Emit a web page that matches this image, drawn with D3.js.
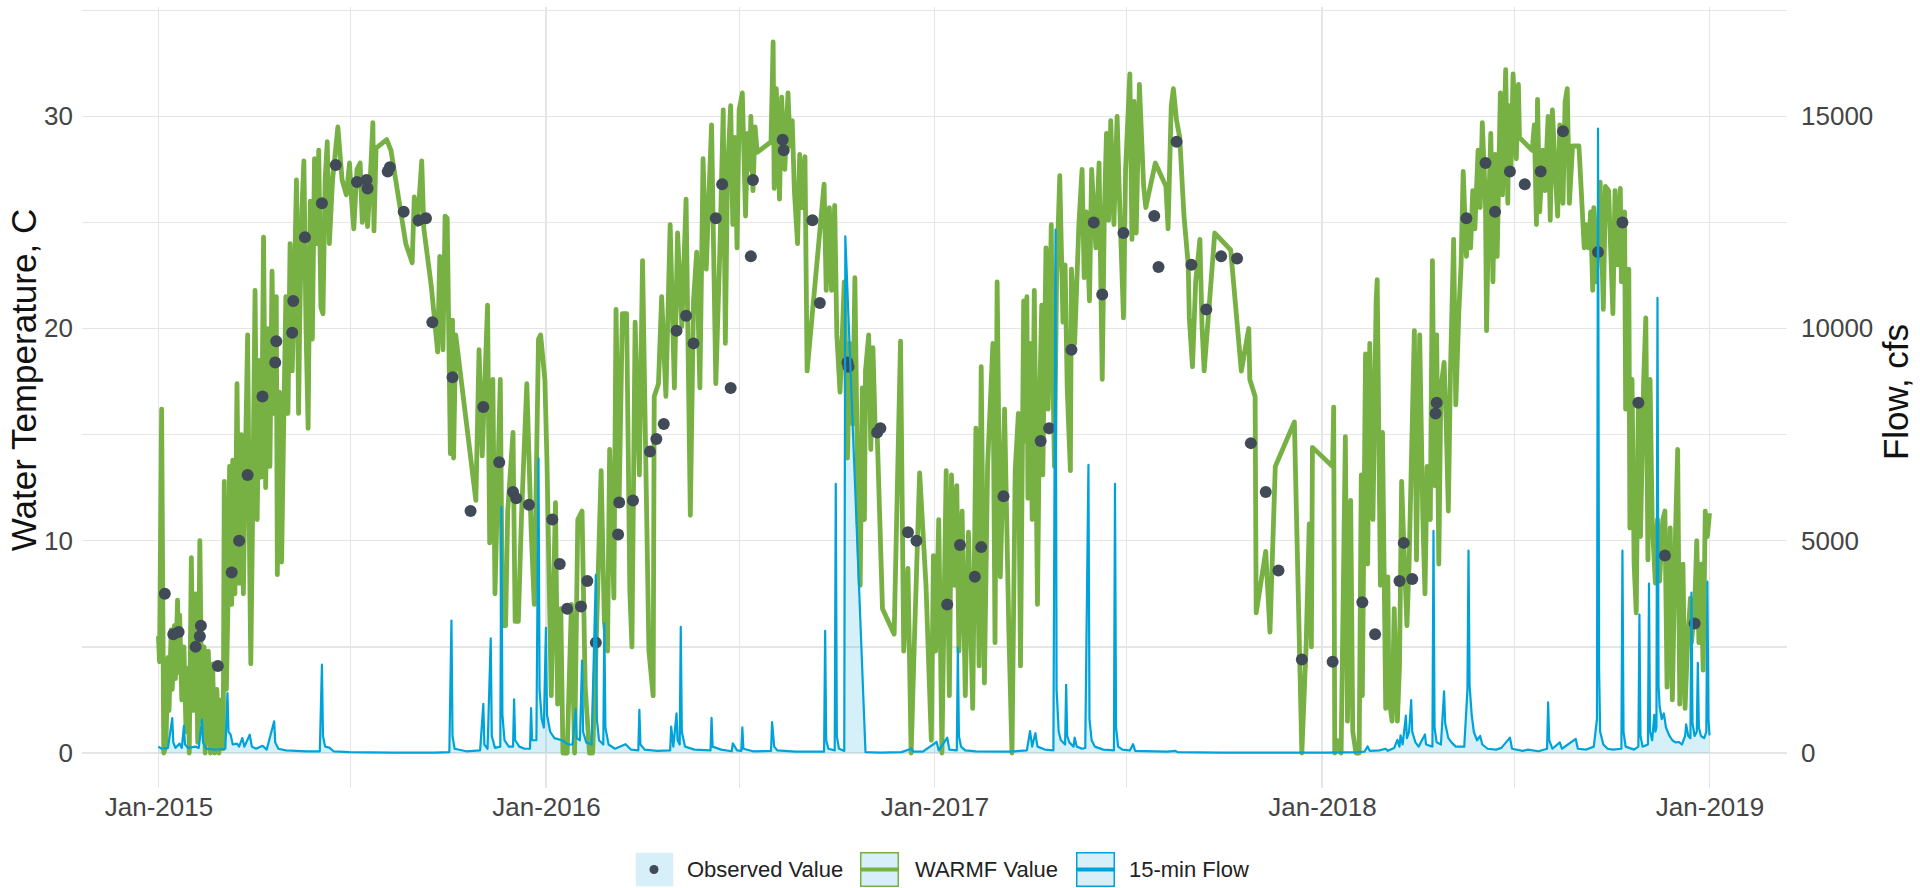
<!DOCTYPE html>
<html lang="en">
<head>
<meta charset="UTF-8">
<title>Water Temperature and Flow</title>
<style>
  body { margin: 0; background: #fff; }
  svg { display: block; font-family: "Liberation Sans", Arial, sans-serif; }
  .grid line { stroke: #e5e5e5; stroke-width: 1.3; shape-rendering: crispEdges; }
  .axis text { fill: #444; font-size: 26px; }
  .axis path, .axis line { display: none; }
  .title { fill: #111; font-size: 35px; }
  .legend text { fill: #222; font-size: 22px; }
</style>
</head>
<body>
<svg class="chart"></svg>
<script src="https://cdn.jsdelivr.net/npm/d3@7"></script>
<script>
// days are counted from 2015-01-01
var startDate = new Date(2015, 0, 1);

var warmfDay = [0,1,3,5,7,9,10,12,13,15,16,18,19,20,22,24,26,28,29,31,33,35,37,39,41,43,44,47,49,51,53,55,57,59,61,62,64,66,67,69,70,72,74,76,78,80,82,84,86,87,89,91,93,95,97,99,101,103,105,107,109,111,112,114,116,118,120,122,124,126,128,130,132,133,135,137,139,141,143,145,147,149,151,153,155,157,159,161,164,169,173,177,180,182,184,187,190,192,194,197,199,202,203,205,215,219,227,233,239,241,244,248,250,257,263,265,268,270,272,275,277,278,280,299,302,305,307,310,312,315,317,322,324,327,329,334,336,339,342,347,351,354,358,360,364,366,370,374,376,379,381,385,389,392,395,399,402,406,409,412,417,420,423,425,429,431,434,437,441,444,446,449,453,456,459,462,466,467,471,474,478,482,486,489,493,497,501,504,507,510,513,516,521,525,529,532,534,536,539,541,543,545,547,550,553,555,557,558,560,562,564,577,579,580,582,585,587,590,593,595,597,599,602,604,606,609,611,627,629,632,634,637,639,642,644,646,649,651,654,656,659,661,663,665,666,669,671,673,675,677,682,693,699,702,706,709,712,717,723,728,730,732,735,738,740,742,745,747,750,752,754,757,760,763,767,770,773,775,778,781,786,788,790,793,797,801,804,807,810,812,815,817,818,819,821,823,825,828,830,832,833,836,838,841,842,844,846,849,852,854,856,859,860,863,867,870,872,874,877,879,883,886,889,891,893,895,897,900,903,905,909,911,915,917,919,921,924,928,930,939,949,951,954,956,959,962,966,970,971,974,977,981,983,985,995,1010,1020,1027,1028,1033,1034,1043,1047,1052,1070,1077,1081,1084,1086,1087,1106,1107,1108,1110,1114,1118,1120,1123,1125,1128,1131,1133,1134,1137,1139,1141,1144,1147,1148,1151,1153,1156,1158,1159,1162,1164,1167,1169,1171,1173,1176,1178,1183,1185,1188,1191,1193,1195,1198,1200,1202,1204,1206,1208,1211,1213,1215,1217,1220,1222,1225,1227,1229,1232,1234,1236,1238,1240,1243,1245,1247,1250,1251,1253,1255,1257,1259,1261,1264,1266,1269,1271,1272,1274,1276,1279,1281,1282,1294,1296,1298,1299,1301,1304,1306,1309,1311,1313,1316,1318,1320,1323,1325,1327,1329,1332,1335,1338,1340,1343,1345,1347,1349,1351,1352,1354,1356,1358,1361,1363,1366,1370,1372,1374,1377,1378,1381,1382,1385,1386,1388,1390,1392,1394,1396,1399,1401,1403,1405,1407,1410,1412,1414,1417,1419,1421,1424,1426,1429,1431,1433,1436,1438,1440,1443,1444,1447,1449,1451,1453,1455,1457,1459,1461];
var warmfTemp = [5.5,4.3,16.2,0,0.3,4.5,2.0,5.8,3.0,6.0,3.5,7.2,3.8,6.5,2.5,5.0,1.0,4.0,0,9.2,2.0,7.5,0.5,10.0,1.5,5.0,0,4.8,0,4.2,0,3.0,0,2.5,0.2,12.8,3.0,8.5,13.5,7.0,13.8,7.5,17.4,8.0,15.0,7.5,14.0,19.7,8.5,4.2,12.5,21.8,11.0,18.5,13.0,24.3,12.5,20.0,13.5,22.7,16.0,21.5,8.4,17.0,9.0,15.5,21.5,16.0,24.0,18.0,22.0,27.0,16.0,20.0,25.5,27.9,20.0,15.3,26.0,19.5,28.0,24.0,28.4,21.0,20.7,27.0,28.8,24.0,27.0,29.5,27.0,26.3,27.8,26.0,24.7,27.5,27.8,25.0,27.0,24.8,26.5,29.7,24.6,28.5,28.9,28.4,25.9,24.0,23.1,26.2,24.9,27.9,24.7,22.0,18.9,23.4,19.0,25.3,25.2,14.1,20.4,13.9,19.7,11.9,19.0,14.0,16.8,21.1,9.9,17.6,7.5,17.6,6.0,6.0,11.4,15.1,6.2,6.2,11.2,17.4,10.6,7.0,19.5,19.7,17.6,13.7,2.7,11.8,2.3,6.8,0,0,7.0,0,11.0,11.4,3.1,0,0,4.6,13.3,6.2,4.8,14.3,7.3,20.9,12.0,20.7,20.7,7.7,5.0,20.3,13.1,23.2,13.9,4.8,2.7,16.8,17.4,21.5,16.8,24.9,17.2,24.5,20.1,26.1,11.2,21.3,23.6,17.2,28.0,22.8,29.6,17.4,24.0,30.3,19.3,27.3,30.5,24.9,29.0,23.8,30.3,31.1,25.3,29.2,27.5,30.0,26.5,29.5,28.3,28.8,33.5,26.6,31.3,26.1,30.9,27.5,31.1,28.6,29.8,26.5,24.0,28.2,25.7,28.1,18.0,26.8,21.8,25.7,21.8,25.8,19.7,17.0,19.5,22.2,13.9,19.3,15.5,22.4,11.0,7.9,17.2,11.0,18.0,19.7,14.3,19.1,15.5,15.1,6.8,5.6,19.4,4.8,8.7,0,5.2,13.2,7.9,0.6,9.3,4.8,11.0,0,6.8,13.3,2.7,13.1,7.9,12.6,4.8,11.4,2.7,10.4,2.1,15.3,4.1,18.2,3.3,13.5,19.3,5.2,22.2,8.3,16.2,5.8,0,13.3,16.0,4.1,21.3,14.7,21.5,12.0,19.3,11.0,21.8,7.0,16.6,21.1,13.1,23.8,16.2,24.9,19.3,13.5,22.4,27.2,20.3,23.0,17.2,13.3,22.8,19.3,24.9,27.5,22.4,25.5,21.3,27.5,23.8,27.8,17.6,25.5,29.2,25.1,29.8,24.9,30.0,26.5,20.5,27.5,32.0,24.2,30.7,24.5,31.5,26.7,25.7,27.8,26.7,24.7,30.5,31.3,29.8,29.0,25.3,23.0,20.5,18.2,22.2,24.2,20.1,18.0,24.5,23.7,18.0,20.0,17.6,16.8,6.6,9.5,5.7,13.5,15.6,0,5.0,10.8,5.0,14.4,13.5,16.3,0,0.6,0,14.9,1.5,11.9,1.0,0,0,13.1,2.7,18.8,8.9,19.3,11.0,21.3,22.3,7.9,15.1,2.1,8.3,2.7,1.5,6.8,1.5,4.1,12.8,9.9,6.0,8.9,19.9,9.1,19.7,11.0,7.5,13.5,11.0,23.2,12.6,19.7,8.9,17.2,18.4,15.5,11.4,18.0,24.2,16.4,20.9,23.0,27.4,23.4,24.9,23.8,26.5,24.7,28.4,25.7,29.7,25.9,19.9,25.7,29.2,22.2,28.2,23.4,31.1,26.3,32.2,25.9,30.5,27.5,32.0,28.0,31.5,29.0,28.4,29.6,24.9,30.8,25.5,28.4,26.5,30.0,25.1,30.3,27.1,25.3,29.6,25.9,30.7,31.3,25.9,28.6,28.6,28.6,26.7,23.8,24.9,23.8,25.5,21.8,25.7,22.2,23.8,26.9,20.9,26.7,26.5,20.7,26.5,23.0,26.6,22.2,25.5,16.2,22.8,10.6,17.6,8.9,6.6,16.6,10.2,17.6,20.5,9.1,17.6,11.0,8.0,11.0,8.1,11.0,11.4,3.1,10.6,2.5,10.4,14.3,2.3,8.9,2.1,4.8,7.3,5.2,6.8,10.0,5.2,8.9,3.9,11.4,10.2,11.3];

var obsDay = [6,14,19,35,39,40,56,69,76,84,98,110,111,126,127,138,154,167,187,196,197,216,218,231,245,252,258,277,294,306,321,334,337,349,371,378,385,398,404,412,433,434,447,463,469,476,488,497,504,525,531,539,558,560,588,589,616,623,649,650,677,680,706,714,743,755,769,775,796,831,839,860,881,889,909,938,942,959,973,987,1001,1016,1029,1043,1055,1077,1106,1134,1146,1169,1173,1181,1203,1204,1232,1250,1259,1273,1287,1302,1323,1356,1379,1394,1419,1447];
var obsTemp = [7.5,5.6,5.7,5.0,5.5,6.0,4.1,8.5,10.0,13.1,16.8,18.4,19.4,19.8,21.3,24.3,25.9,27.7,26.9,27.0,26.6,27.4,27.6,25.5,25.1,25.2,20.3,17.7,11.4,16.3,13.7,12.3,12.0,11.7,11.0,8.9,6.8,6.9,8.1,5.2,10.3,11.8,11.9,14.2,14.8,15.5,19.9,20.6,19.3,25.2,26.8,17.2,23.4,27.0,28.9,28.4,25.1,21.2,18.4,18.2,15.1,15.3,10.4,10.0,7.0,9.8,8.3,9.7,12.1,14.7,15.3,19.0,25.0,21.6,24.5,25.3,22.9,28.8,23.0,20.9,23.4,23.3,14.6,12.3,8.6,4.4,4.3,7.1,5.6,8.1,9.9,8.2,16.0,16.5,25.2,27.8,25.5,27.4,26.8,27.4,29.3,23.6,25.0,16.5,9.3,6.1];

var flowDay = [0,3,9,13,14,16,20,22,24,25,28,35,38,41,42,45,54,63,65,66,68,70,74,76,79,81,86,88,92,98,102,109,110,113,120,140,152,154,155,157,161,165,180,220,260,274,276,277,279,290,303,306,307,310,313,314,317,322,323,324,326,330,334,335,336,340,345,350,351,352,356,358,359,361,363,365,366,369,373,380,386,390,393,394,397,399,400,403,408,412,413,415,419,420,421,424,430,440,445,452,453,454,458,470,482,483,485,488,489,491,492,493,496,505,520,521,522,530,540,541,545,549,550,551,560,577,578,580,583,600,627,628,629,631,637,638,639,641,646,647,666,680,700,709,711,720,733,735,743,745,752,753,754,756,760,770,800,818,821,823,826,828,835,843,845,846,848,850,854,855,856,858,862,863,865,870,873,874,876,877,879,882,890,900,901,902,904,908,915,918,920,950,958,960,1000,1050,1100,1130,1136,1139,1141,1150,1156,1158,1164,1167,1169,1170,1172,1175,1176,1178,1180,1181,1184,1187,1193,1194,1200,1201,1202,1204,1208,1211,1212,1215,1218,1222,1230,1233,1234,1235,1237,1239,1242,1245,1247,1252,1260,1265,1273,1275,1285,1290,1300,1308,1309,1310,1313,1320,1322,1335,1337,1345,1352,1355,1356,1357,1358,1361,1365,1370,1378,1379,1380,1382,1390,1394,1395,1396,1398,1403,1404,1405,1407,1409,1410,1411,1412,1413,1414,1416,1418,1420,1423,1426,1429,1432,1435,1438,1439,1441,1443,1444,1445,1447,1449,1450,1451,1453,1456,1458,1459,1460,1461];
var flowCfs = [150,100,120,820,250,120,220,120,640,200,120,150,120,785,250,100,80,100,1410,500,430,200,220,150,350,150,430,150,100,170,80,746,250,100,60,40,40,2080,400,150,125,40,20,10,10,20,3120,400,100,40,60,1155,200,100,2700,400,120,150,5800,900,300,150,150,1265,300,150,100,100,1055,300,300,6940,1500,800,600,2950,900,500,350,300,200,200,1036,350,300,2176,500,250,200,4196,800,300,200,3056,600,200,100,207,80,60,1015,200,80,50,60,622,150,932,300,200,2973,500,150,80,60,829,150,80,40,228,60,50,601,100,40,50,725,150,60,30,30,2880,300,100,60,6340,400,100,50,12173,20,10,20,100,30,30,259,60,363,80,60,2486,400,150,60,40,30,60,518,150,466,150,80,60,12328,1500,500,300,200,1606,400,250,150,363,150,100,120,2383,6786,800,300,150,80,60,6340,600,150,80,60,207,50,30,50,20,10,10,10,20,30,155,50,60,100,50,120,310,150,415,200,880,350,500,1243,500,250,150,435,200,150,5232,600,250,200,1450,700,350,250,150,150,1500,4766,1600,900,500,300,400,200,100,80,120,363,100,50,80,40,100,1191,300,100,250,100,330,100,80,150,800,14711,2000,500,200,100,80,100,4766,500,150,80,150,3263,400,150,200,3989,500,300,900,500,600,10723,1600,1100,800,932,600,414,300,250,259,200,400,673,400,350,3781,700,400,500,2124,600,400,350,500,4040,800,414];

var tempTicks = [0, 10, 20, 30];
var flowTicks = [0, 5000, 10000, 15000];
var legendLabels = ["Observed Value", "WARMF Value", "15-min Flow"];

var green = "#77b143", blue = "#00a3d9", dotColor = "#414b57", pale = "#d7eff8";

var svgWidth = 1920, svgHeight = 888;
var plotLeft = 82, plotRight = 1787, plotTop = 7, plotBottom = 788;

var svg = d3.select(".chart")
  .attr("width", svgWidth)
  .attr("height", svgHeight);

function toDate(d) { return d3.timeDay.offset(startDate, d); }

var x = d3.scaleTime()
  .domain([toDate(-72), toDate(1534)])
  .range([plotLeft, plotRight]);

var yT = d3.scaleLinear()
  .domain([-1.65, 35.15])
  .range([plotBottom, plotTop]);

var yQ = d3.scaleLinear()
  .domain([-825, 17575])
  .range([plotBottom, plotTop]);

// grid
var grid = svg.append("g").attr("class", "grid");
grid.selectAll(".h")
  .data(d3.range(0, 36, 5))
  .enter().append("line")
  .attr("x1", plotLeft).attr("x2", plotRight)
  .attr("y1", function(d) { return yT(d); })
  .attr("y2", function(d) { return yT(d); });
grid.selectAll(".v")
  .data(d3.timeMonth.range(new Date(2015, 0, 1), new Date(2019, 0, 2), 6))
  .enter().append("line")
  .attr("y1", plotTop).attr("y2", plotBottom)
  .attr("x1", function(d) { return x(d); })
  .attr("x2", function(d) { return x(d); });

// axes
svg.append("g")
  .attr("class", "axis")
  .attr("transform", "translate(0," + plotBottom + ")")
  .call(d3.axisBottom(x)
    .tickValues(d3.timeYear.range(new Date(2015, 0, 1), new Date(2019, 0, 2)))
    .tickFormat(d3.timeFormat("%b-%Y"))
    .tickSize(0).tickPadding(10));

svg.append("g")
  .attr("class", "axis")
  .attr("transform", "translate(" + plotLeft + ",0)")
  .call(d3.axisLeft(yT).tickValues(tempTicks).tickSize(0).tickPadding(9));

svg.append("g")
  .attr("class", "axis")
  .attr("transform", "translate(" + plotRight + ",0)")
  .call(d3.axisRight(yQ).tickValues(flowTicks).tickFormat(d3.format("d"))
    .tickSize(0).tickPadding(14));

svg.selectAll(".axis .domain").remove();

// titles
svg.append("text")
  .attr("class", "title")
  .attr("transform", "translate(36,380) rotate(-90)")
  .attr("text-anchor", "middle")
  .text("Water Temperature, C");

svg.append("text")
  .attr("class", "title")
  .attr("transform", "translate(1908,392) rotate(-90)")
  .attr("text-anchor", "middle")
  .text("Flow, cfs");

// series
var flow = flowDay.map(function(d, i) { return {date: toDate(d), q: flowCfs[i]}; });
var warmf = warmfDay.map(function(d, i) { return {date: toDate(d), t: warmfTemp[i]}; });
var obs = obsDay.map(function(d, i) { return {date: toDate(d), t: obsTemp[i]}; });

svg.append("path")
  .datum(flow)
  .attr("fill", blue)
  .attr("fill-opacity", 0.16)
  .attr("d", d3.area()
    .x(function(d) { return x(d.date); })
    .y0(yQ(0))
    .y1(function(d) { return yQ(d.q); }));

svg.append("path")
  .datum(warmf)
  .attr("fill", "none")
  .attr("stroke", green)
  .attr("stroke-width", 4.8)
  .attr("stroke-linejoin", "round")
  .attr("d", d3.line()
    .x(function(d) { return x(d.date); })
    .y(function(d) { return yT(d.t); }));

svg.append("g").selectAll("circle")
  .data(obs)
  .enter().append("circle")
  .attr("cx", function(d) { return x(d.date); })
  .attr("cy", function(d) { return yT(d.t); })
  .attr("r", 6)
  .attr("fill", dotColor);

svg.append("path")
  .datum(flow)
  .attr("fill", "none")
  .attr("stroke", blue)
  .attr("stroke-width", 2.2)
  .attr("stroke-linejoin", "round")
  .attr("d", d3.line()
    .x(function(d) { return x(d.date); })
    .y(function(d) { return yQ(d.q); }));

// legend
var legend = svg.append("g").attr("class", "legend");
var items = [
  {box: 635, text: 687, kind: "dot"},
  {box: 860, text: 915, kind: "line", color: green},
  {box: 1076, text: 1129, kind: "line", color: blue}
];
items.forEach(function(it, i) {
  var g = legend.append("g");
  g.append("rect")
    .attr("x", it.box + 0.75).attr("y", 852.75)
    .attr("width", 37.5).attr("height", 33.5)
    .attr("fill", pale)
    .attr("stroke", it.kind === "line" ? it.color : "none")
    .attr("stroke-width", 1.5);
  if (it.kind === "dot") {
    g.append("circle").attr("cx", it.box + 19).attr("cy", 869.5).attr("r", 4.5).attr("fill", dotColor);
  } else {
    g.append("line")
      .attr("x1", it.box + 1).attr("x2", it.box + 38)
      .attr("y1", 869.5).attr("y2", 869.5)
      .attr("stroke", it.color).attr("stroke-width", 4);
  }
  g.append("text")
    .attr("x", it.text).attr("y", 877)
    .text(legendLabels[i]);
});
</script>
</body>
</html>
